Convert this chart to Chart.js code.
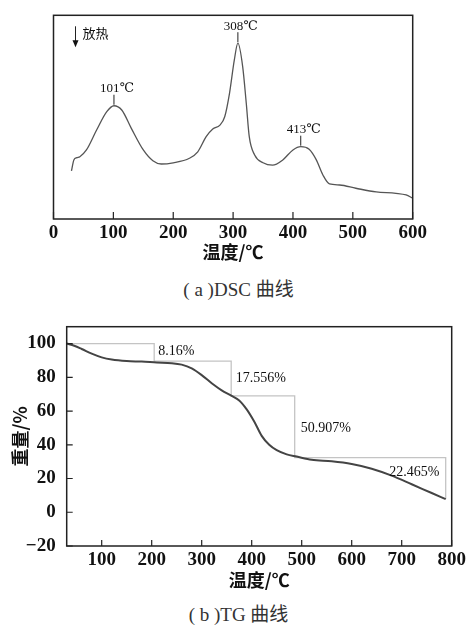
<!DOCTYPE html>
<html>
<head>
<meta charset="utf-8">
<script src="https://cdn.jsdelivr.net/npm/chart.js@4.4.0/dist/chart.umd.min.js"></script>
<style>
  body { margin: 0; background: #fff; width: 469px; height: 626px; position: relative; overflow: hidden; }
  .box { position: absolute; left: 0; width: 469px; }
  .cap { position: absolute; left: 4px; width: 469px; text-align: center; color: #333;
         font-family: "Liberation Serif", "Noto Sans CJK SC", serif; font-size: 19px; line-height: 20px; }
</style>
</head>
<body>
<div class="box" style="top:0;height:268px"><canvas id="dsc" width="469" height="268"></canvas></div>
<div class="cap" style="top:280px">( a )DSC 曲线</div>
<div class="box" style="top:312px;height:280px"><canvas id="tg" width="469" height="280"></canvas></div>
<div class="cap" style="top:605px">( b )TG 曲线</div>
<script>
// DSC curve (arbitrary heat flow units)
const dscTemp = [30, 34, 39, 44, 55, 72, 89, 101, 114, 130, 150, 166, 180, 200, 227, 241, 255, 266, 278, 286,
                 294, 302, 308, 316, 322, 327, 336, 350, 366, 383, 400, 413, 427, 439, 450, 461, 478, 505, 539, 572, 589, 600];
const dscHeat = [23.6, 29, 30.1, 30.6, 33.9, 43.7, 52.7, 55.6, 53.5, 44.5, 33.9, 28.6, 27, 27.6, 29.8, 33, 40.4, 44.2, 46.1, 50.2,
                 61.7, 78, 86.3, 74.8, 56.8, 40.4, 31.4, 27.6, 26.4, 29, 33.9, 35.5, 34.2, 29, 21.6, 17.2, 16.7, 15.1, 13.3, 12.6, 11.8, 10.2];
const dscTicks = [0, 100, 200, 300, 400, 500, 600];
const dscPeaks = [101, 308, 413];
const dscPeakLabels = ['101℃', '308℃', '413℃'];

// TG curve
const tgTemp = [30, 45, 60, 80, 100, 120, 150, 180, 210, 240, 260, 280, 300, 320, 340, 360, 375, 390, 405, 420,
                435, 450, 470, 490, 520, 560, 600, 640, 680, 720, 760, 788];
const tgWeight = [100, 98.7, 96.8, 94, 91.8, 90.5, 89.6, 89.3, 88.8, 88.4, 87.5, 85.3, 81.3, 76.5, 72.3, 69, 66.3, 61, 53.8, 45.3,
                  40, 36.8, 34.3, 33, 31.1, 30.2, 28.6, 25.8, 21.7, 16.6, 11.4, 7.8];
const stepTemp = [30, 205, 359, 486, 788];
const stepWeight = [100, 89.6, 69, 32.4, 7.8];
const lossLabels = ['8.16%', '17.556%', '50.907%', '22.465%'];
const lossTemp = [213, 368, 498, 675];
const lossWeight = [95.3, 79.6, 49.8, 23.5];
const tgXTicks = [100, 200, 300, 400, 500, 600, 700, 800];
const tgYTicks = [-20, 0, 20, 40, 60, 80, 100];

const serif = "'Liberation Serif', 'DejaVu Serif', 'Noto Sans CJK SC', serif";
const cjk = "'Noto Sans CJK SC', sans-serif";
const tickFont = { family: serif, size: 19, weight: 'bold' };
const titleFont = { family: cjk, size: 18, weight: 'bold' };

// box around the plot + inward tick marks
const frame = {
  id: 'frame',
  afterDatasetsDraw(chart, args, opts) {
    const { ctx, chartArea: a, scales } = chart;
    ctx.save();
    ctx.strokeStyle = '#222';
    ctx.lineWidth = 1.5;
    ctx.strokeRect(a.left, a.top, a.right - a.left, a.bottom - a.top);
    ctx.lineWidth = 1.2;
    ctx.beginPath();
    scales.x.ticks.forEach(t => {
      const x = scales.x.getPixelForValue(t.value);
      ctx.moveTo(x, a.bottom);
      ctx.lineTo(x, a.bottom - opts.len);
    });
    if (opts.yTicks) {
      scales.y.ticks.forEach(t => {
        const y = scales.y.getPixelForValue(t.value);
        ctx.moveTo(a.left, y);
        ctx.lineTo(a.left + opts.len, y);
      });
    }
    ctx.stroke();
    ctx.restore();
  }
};

const dscNotes = {
  id: 'dscNotes',
  afterDatasetsDraw(chart) {
    const { ctx, chartArea: a, scales: { x, y } } = chart;
    ctx.save();
    ctx.strokeStyle = '#222';
    ctx.fillStyle = '#111';
    ctx.lineWidth = 1;
    ctx.font = '13px ' + serif;
    ctx.textAlign = 'center';
    ctx.textBaseline = 'middle';
    dscPeaks.forEach((t, i) => {
      const px = x.getPixelForValue(t);
      const py = y.getPixelForValue(dscHeat[dscTemp.indexOf(t)]);
      ctx.beginPath();
      ctx.moveTo(px, py - 1);
      ctx.lineTo(px, py - 11);
      ctx.stroke();
      ctx.fillText(dscPeakLabels[i], px + 3, py - 17);
    });
    // exotherm arrow
    const ax = a.left + 22, ay = a.top + 11;
    ctx.beginPath();
    ctx.moveTo(ax, ay);
    ctx.lineTo(ax, ay + 16);
    ctx.stroke();
    ctx.beginPath();
    ctx.moveTo(ax - 3, ay + 14);
    ctx.lineTo(ax + 3, ay + 14);
    ctx.lineTo(ax, ay + 21);
    ctx.closePath();
    ctx.fill();
    ctx.font = '13px ' + cjk;
    ctx.textAlign = 'left';
    ctx.fillText('放热', a.left + 29, a.top + 18);
    ctx.restore();
  }
};

const tgNotes = {
  id: 'tgNotes',
  afterDatasetsDraw(chart) {
    const { ctx, scales: { x, y } } = chart;
    ctx.save();
    ctx.fillStyle = '#111';
    ctx.font = '14px ' + serif;
    ctx.textAlign = 'left';
    ctx.textBaseline = 'middle';
    lossLabels.forEach((s, i) => {
      ctx.fillText(s, x.getPixelForValue(lossTemp[i]), y.getPixelForValue(lossWeight[i]));
    });
    ctx.restore();
  }
};

new Chart(document.getElementById('dsc'), {
  type: 'line',
  data: {
    datasets: [{
      data: dscTemp.map((t, i) => ({ x: t, y: dscHeat[i] })),
      borderColor: '#555',
      borderWidth: 1.3,
      pointRadius: 0,
      cubicInterpolationMode: 'monotone',
      fill: false
    }]
  },
  options: {
    responsive: false,
    animation: false,
    layout: { padding: { left: 53.5, right: 56.3, top: 15.3, bottom: 0 } },
    plugins: {
      legend: { display: false },
      tooltip: { enabled: false },
      frame: { len: 7, yTicks: false }
    },
    scales: {
      x: {
        type: 'linear',
        min: 0,
        max: 600,
        afterBuildTicks: s => { s.ticks = dscTicks.map(v => ({ value: v })); },
        afterFit: s => { s.height = 49; },
        grid: { display: false },
        border: { display: false },
        ticks: { padding: -5, color: '#111', font: tickFont, maxRotation: 0 },
        title: { display: true, text: '温度/℃', color: '#111', font: titleFont, padding: { top: 0, bottom: 4.7 } }
      },
      y: { display: false, min: 0, max: 100 }
    }
  },
  plugins: [frame, dscNotes]
});

new Chart(document.getElementById('tg'), {
  type: 'line',
  data: {
    datasets: [{
      data: tgTemp.map((t, i) => ({ x: t, y: tgWeight[i] })),
      borderColor: '#444',
      borderWidth: 2,
      pointRadius: 0,
      cubicInterpolationMode: 'monotone',
      fill: false
    }, {
      data: stepTemp.map((t, i) => ({ x: t, y: stepWeight[i] })),
      borderColor: '#c4c4c4',
      borderWidth: 1.3,
      pointRadius: 0,
      stepped: true,
      fill: false
    }]
  },
  options: {
    responsive: false,
    animation: false,
    layout: { padding: { left: 0, right: 17.3, top: 14.7, bottom: 0 } },
    plugins: {
      legend: { display: false },
      tooltip: { enabled: false },
      frame: { len: 6, yTicks: true }
    },
    scales: {
      x: {
        type: 'linear',
        min: 30,
        max: 800,
        afterBuildTicks: s => { s.ticks = tgXTicks.map(v => ({ value: v })); },
        afterFit: s => { s.height = 46; },
        grid: { display: false },
        border: { display: false },
        ticks: { padding: -5, color: '#111', font: tickFont, maxRotation: 0 },
        title: { display: true, text: '温度/℃', color: '#111', font: titleFont, padding: { top: 0, bottom: 1.2 } }
      },
      y: {
        type: 'linear',
        min: -20,
        max: 110,
        afterBuildTicks: s => { s.ticks = tgYTicks.map(v => ({ value: v })); },
        afterFit: s => { s.width = 66.7; },
        grid: { display: false },
        border: { display: false },
        ticks: { padding: 3, color: '#111', font: tickFont, callback: v => v < 0 ? '−' + Math.abs(v) : v },
        title: { display: true, text: '重量/%', color: '#111', font: titleFont, padding: { top: 9, bottom: 0 } }
      }
    }
  },
  plugins: [frame, tgNotes]
});
</script>
</body>
</html>
